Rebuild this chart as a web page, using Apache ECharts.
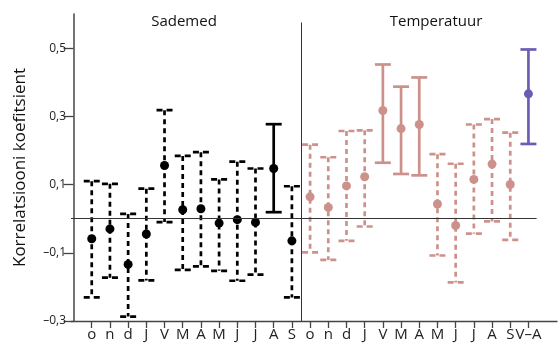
<!DOCTYPE html>
<html><head><meta charset="utf-8">
<script src="https://cdn.jsdelivr.net/npm/echarts@6/dist/echarts.min.js"></script>
<style>html,body{margin:0;padding:0;background:#fff}#c{width:558px;height:347px}</style>
</head><body><div id="c"></div>
<script>
// ---- data ----
const monthLabels = ['o','n','d','J','V','M','A','M','J','J','A','S'];
const seasonLabel = 'V–A';
const yTickValues = [-0.3, -0.1, 0.1, 0.3, 0.5];
const yTickLabels = ['–0,3', '–0,1', '0,1', '0,3', '0,5'];
const panelTitles = ['Sademed', 'Temperatuur'];
const yAxisTitle = 'Korrelatsiooni koefitsient';

const precipMid  = [-0.059, -0.030, -0.134, -0.045, 0.156, 0.026, 0.029, -0.013, -0.003, -0.011, 0.147, -0.065];
const precipHigh = [ 0.110,  0.102,  0.014,  0.088, 0.318, 0.184, 0.195,  0.115,  0.167,  0.147, 0.277,  0.095];
const precipLow  = [-0.231, -0.173, -0.287, -0.181, -0.010, -0.150, -0.140, -0.153, -0.182, -0.164, 0.019, -0.231];
const precipSignificant = [0,0,0,0,0,0,0,0,0,0,1,0];

const tempMid  = [ 0.064,  0.033,  0.096,  0.123, 0.317, 0.264, 0.276,  0.043, -0.020,  0.115,  0.160,  0.100];
const tempHigh = [ 0.217,  0.180,  0.257,  0.259, 0.452, 0.387, 0.414,  0.189,  0.161,  0.276,  0.292,  0.252];
const tempLow  = [-0.099, -0.121, -0.065, -0.023, 0.164, 0.131, 0.127, -0.108, -0.187, -0.044, -0.008, -0.062];
const tempSignificant = [0,0,0,0,1,1,1,0,0,0,0,0];

const seasonMid  = [0.366];
const seasonHigh = [0.496];
const seasonLow  = [0.219];
const seasonSignificant = [1];

// ---- build ----
const xCats = monthLabels.concat(monthLabels, [seasonLabel]);
const xPos = xCats.map((_, i) => i + 1);
const precipPos = monthLabels.map((_, i) => i + 1);
const tempPos = monthLabels.map((_, i) => i + 13);
const seasonPos = [25];

const FONT = 'Open Sans';
const AXIS = '#444';

function mk(pos, lo, hi, sig) { return pos.map((p, i) => [p, lo[i], hi[i], sig[i]]); }
function mkPts(pos, mid) { return pos.map((p, i) => [p, mid[i]]); }

function errRender(color, lw, dash, capDash) {
  return function (params, api) {
    const x = api.value(0), lo = api.value(1), hi = api.value(2), solid = api.value(3);
    const t = api.coord([x, hi]), b = api.coord([x, lo]);
    const cw = 8;
    const vStyle = { stroke: color, lineWidth: lw, lineDash: solid ? null : dash, fill: null };
    const cStyle = { stroke: color, lineWidth: lw, lineDash: solid ? null : capDash, fill: null };
    return {
      type: 'group',
      children: [
        { type: 'line', shape: { x1: t[0], y1: t[1], x2: b[0], y2: b[1] }, style: vStyle },
        { type: 'line', shape: { x1: t[0] - cw, y1: t[1], x2: t[0] + cw, y2: t[1] }, style: cStyle },
        { type: 'line', shape: { x1: b[0] - cw, y1: b[1], x2: b[0] + cw, y2: b[1] }, style: cStyle }
      ]
    };
  };
}

const BLACK = '#000000', PINK = '#CD918C', PURPLE = '#6A5DB4';

const option = {
  animation: false,
  backgroundColor: '#ffffff',
  title: [
    { text: panelTitles[0], left: 184, top: 14, textAlign: 'center', padding: 0,
      textStyle: { fontFamily: FONT, fontSize: 15, fontWeight: 'normal', color: '#111' } },
    { text: panelTitles[1], left: 436, top: 14, textAlign: 'center', padding: 0,
      textStyle: { fontFamily: FONT, fontSize: 15, fontWeight: 'normal', color: '#111' } }
  ],
  grid: { left: 71, right: 1, top: 14, bottom: 26, containLabel: false },
  xAxis: {
    type: 'value', min: -0.14, max: 26.57,
    splitLine: { show: false },
    axisLine: { show: true, onZero: false, lineStyle: { color: AXIS, width: 1.3 } },
    axisTick: { show: true, customValues: xPos, length: 7, lineStyle: { color: AXIS, width: 1.3 } },
    axisLabel: { show: true, customValues: xPos, margin: 6, fontFamily: FONT, fontSize: 15, color: '#222',
      formatter: v => xCats[Math.round(v) - 1] || '' }
  },
  yAxis: {
    type: 'value', min: -0.3, max: 0.6,
    name: yAxisTitle, nameLocation: 'middle', nameGap: 42,
    nameTextStyle: { fontFamily: FONT, fontSize: 17, color: '#111' },
    splitLine: { show: false },
    axisLine: { show: true, lineStyle: { color: AXIS, width: 1.5 } },
    axisTick: { show: true, customValues: yTickValues, length: 10, lineStyle: { color: AXIS, width: 1.3 } },
    axisLabel: { show: true, customValues: yTickValues, margin: 5, fontFamily: FONT, fontSize: 12, color: '#222',
      formatter: v => { const i = yTickValues.findIndex(t => Math.abs(t - v) < 1e-6); return i >= 0 ? yTickLabels[i] : ''; } }
  },
  series: [
    {
      type: 'custom', name: 'precipErr', renderItem: errRender(BLACK, 2.7, [5, 4], [6, 4]),
      data: mk(precipPos, precipLow, precipHigh, precipSignificant), z: 3,
      markLine: {
        silent: true, symbol: 'none', label: { show: false },
        lineStyle: { color: '#333', width: 1, type: 'solid' },
        data: [
          [{ coord: [-0.14, 0] }, { coord: [25.45, 0] }],
          [{ coord: [12.5, -0.3] }, { coord: [12.5, 0.575] }]
        ]
      }
    },
    { type: 'custom', name: 'tempErr', renderItem: errRender(PINK, 2.7, [5, 4], [6, 4]),
      data: mk(tempPos, tempLow, tempHigh, tempSignificant), z: 3 },
    { type: 'custom', name: 'seasonErr', renderItem: errRender(PURPLE, 2.7, [5, 4], [6, 4]),
      data: mk(seasonPos, seasonLow, seasonHigh, seasonSignificant), z: 3 },
    { type: 'scatter', symbol: 'circle', symbolSize: 9, itemStyle: { color: BLACK, opacity: 1 },
      data: mkPts(precipPos, precipMid), z: 4 },
    { type: 'scatter', symbol: 'circle', symbolSize: 9, itemStyle: { color: PINK, opacity: 1 },
      data: mkPts(tempPos, tempMid), z: 4 },
    { type: 'scatter', symbol: 'circle', symbolSize: 9, itemStyle: { color: PURPLE, opacity: 1 },
      data: mkPts(seasonPos, seasonMid), z: 4 }
  ]
};
const chart = echarts.init(document.getElementById('c'), null, { renderer: 'canvas' });
chart.setOption(option);
</script>
</body></html>
